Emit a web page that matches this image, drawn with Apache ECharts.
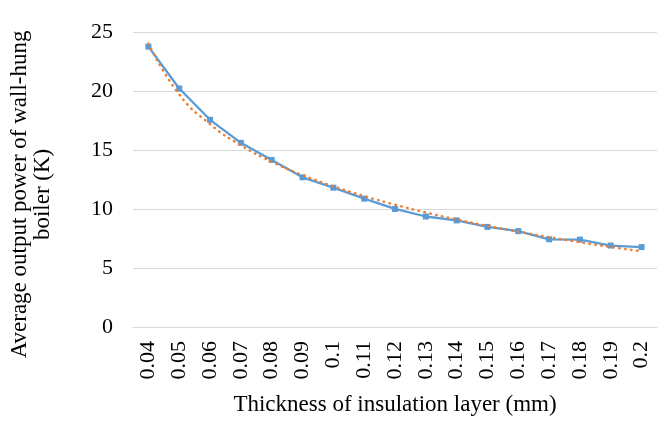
<!DOCTYPE html>
<html>
<head>
<meta charset="utf-8">
<script src="https://cdn.jsdelivr.net/npm/echarts@6/dist/echarts.min.js"></script>
<style>
html,body{margin:0;padding:0;background:#fff;}
#chart{width:664px;height:421px;}
</style>
</head>
<body>
<div id="chart"></div>
<script>
const categories = ['0.04','0.05','0.06','0.07','0.08','0.09','0.1','0.11','0.12','0.13','0.14','0.15','0.16','0.17','0.18','0.19','0.2'];
const powerValues = [23.75, 20.2, 17.55, 15.6, 14.15, 12.68, 11.8, 10.87, 10.0, 9.36, 9.03, 8.48, 8.12, 7.43, 7.4, 6.9, 6.77];
const trendValues = [24.0, 19.7, 17.18, 15.39, 14.0, 12.87, 11.92, 11.09, 10.36, 9.7, 9.11, 8.57, 8.07, 7.61, 7.18, 6.78, 6.41];
const yTicks = [0, 5, 10, 15, 20, 25];
const xTitle = 'Thickness of insulation layer (mm)';
const yTitle = 'Average output power of wall-hung\nboiler (K)';

const FONT = '"Liberation Serif", "Times New Roman", serif';
const chart = echarts.init(document.getElementById('chart'), null, {renderer: 'canvas'});
chart.setOption({
  animation: false,
  backgroundColor: '#fff',
  grid: {left: 115, right: 7, top: 23, bottom: 89, containLabel: false},
  xAxis: {
    type: 'category',
    data: categories,
    boundaryGap: true,
    axisLine: {show: true, lineStyle: {color: '#d9d9d9', width: 1}},
    axisTick: {show: false},
    axisLabel: {rotate: 90, margin: 14, color: '#000', fontFamily: FONT, fontSize: 22, interval: 0},
    name: xTitle,
    nameLocation: 'middle',
    nameGap: 66,
    nameTextStyle: {color: '#000', fontFamily: FONT, fontSize: 23}
  },
  yAxis: {
    type: 'value',
    min: yTicks[0],
    max: yTicks[yTicks.length - 1],
    interval: yTicks[1] - yTicks[0],
    axisLine: {show: false},
    axisTick: {show: false},
    axisLabel: {margin: 20, color: '#000', fontFamily: FONT, fontSize: 22},
    splitLine: {show: true, lineStyle: {color: '#d9d9d9', width: 1}},
    name: yTitle,
    nameLocation: 'middle',
    nameGap: 79,
    nameTextStyle: {color: '#000', fontFamily: FONT, fontSize: 23, lineHeight: 23, align: 'center', padding: [0, 30, 0, 0]}
  },
  series: [
    {
      type: 'line',
      data: powerValues,
      symbol: 'rect',
      symbolSize: 6,
      itemStyle: {color: '#5b9bd5'},
      lineStyle: {color: '#5b9bd5', width: 2.3},
      z: 2
    },
    {
      type: 'line',
      data: trendValues,
      smooth: true,
      symbol: 'none',
      lineStyle: {color: '#ed7d31', width: 2.5, type: [0.5, 5.5], cap: 'round'},
      z: 3
    }
  ]
});
</script>
</body>
</html>
